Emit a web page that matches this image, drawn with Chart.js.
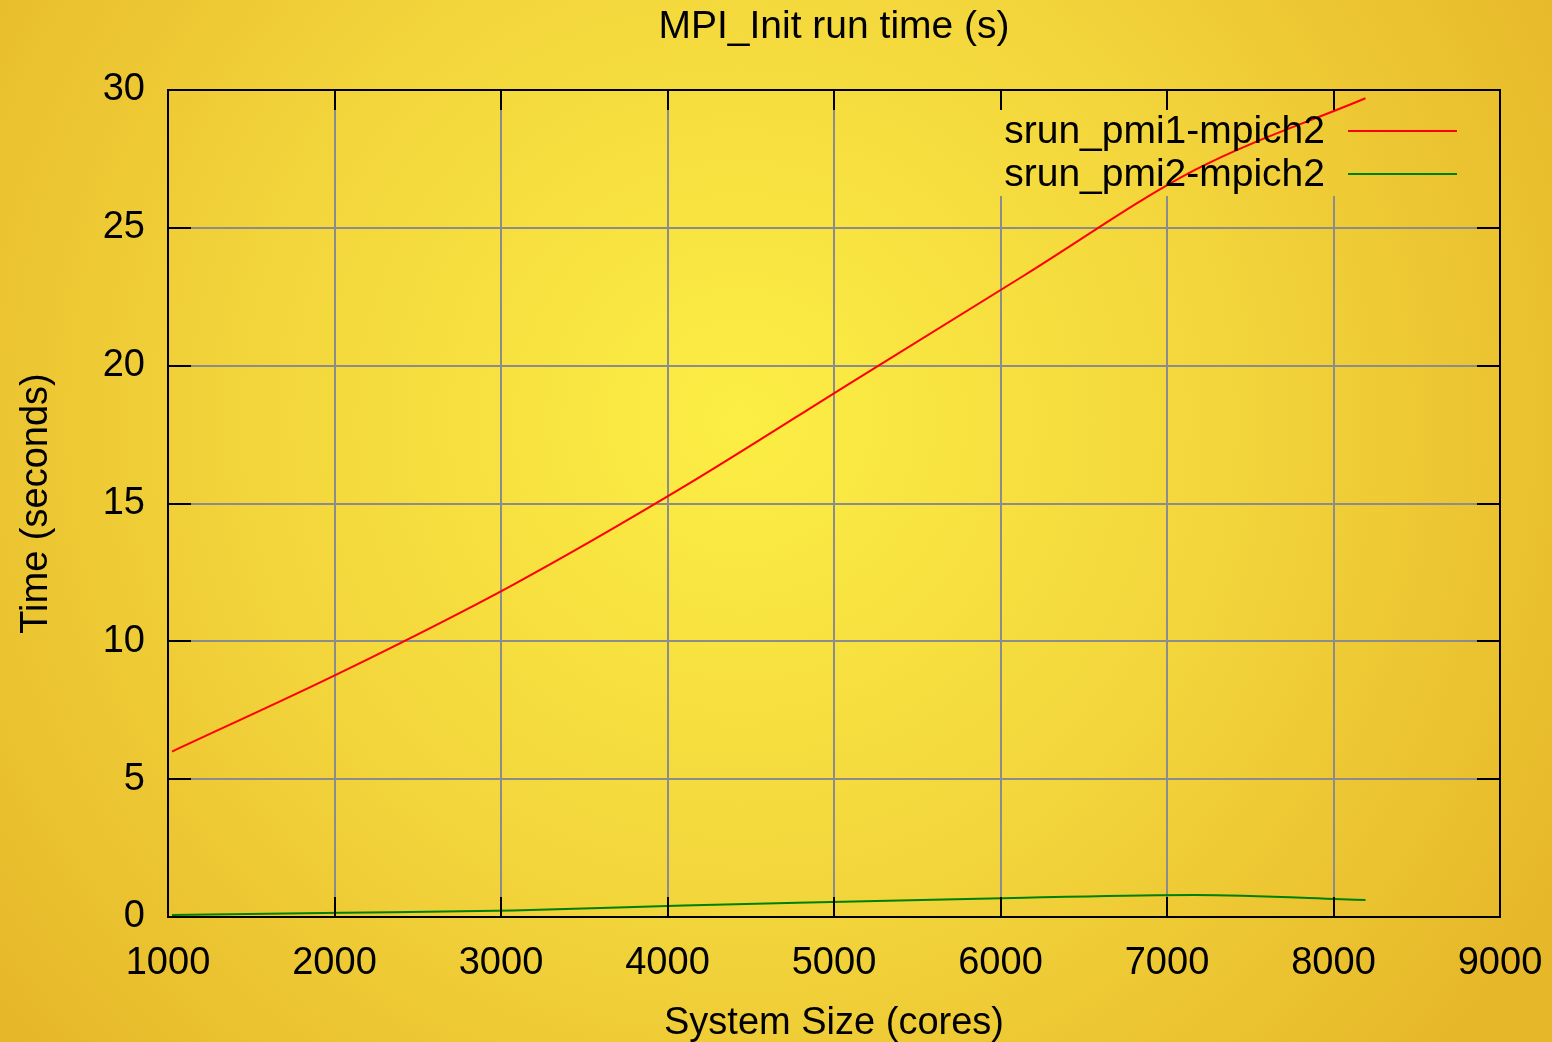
<!DOCTYPE html>
<html>
<head>
<meta charset="utf-8">
<script src="https://cdn.jsdelivr.net/npm/chart.js@4.4.1/dist/chart.umd.min.js"></script>
<style>
  html, body { margin: 0; padding: 0; background: #ebc22f; }
  #wrap { width: 1552px; height: 1042px; position: relative; }
</style>
</head>
<body>
<div id="wrap"><canvas id="chart"></canvas></div>
<script>
// data
const cores = [1024, 2048, 3072, 4096, 5120, 6144, 7168, 8192];
const pmi1 = [6.0, 8.9, 12.05, 15.6, 19.45, 23.28, 27.1, 29.7];
const pmi2 = [0.07, 0.15, 0.24, 0.42, 0.56, 0.7, 0.8, 0.62];
const seriesNames = ["srun_pmi1-mpich2", "srun_pmi2-mpich2"];
const seriesColors = ["#ff0000", "#008000"];
const chartTitle = "MPI_Init run time (s)";

const FONT = "'Liberation Sans', Arial, sans-serif";

function bgGradient(c) {
  const g = c.createRadialGradient(740, 420, 0, 740, 420, 950);
  g.addColorStop(0, "#fcee45");
  g.addColorStop(0.5, "#f3d63c");
  g.addColorStop(1, "#e6b729");
  return g;
}

// gnuplot look: gradient backdrop, blanked key area, black frame with inward ticks
const gnuplotLook = {
  id: "gnuplotLook",
  beforeDraw(chart) {
    const c = chart.ctx;
    c.save();
    c.fillStyle = bgGradient(c);
    c.fillRect(0, 0, chart.width, chart.height);
    c.restore();
  },
  beforeDatasetsDraw(chart) {
    const c = chart.ctx;
    c.save();
    c.fillStyle = bgGradient(c);
    c.fillRect(994, 110, 470, 86);
    c.restore();
  },
  afterDraw(chart) {
    const c = chart.ctx;
    const a = chart.chartArea;
    const xs = chart.scales.x, ys = chart.scales.y;
    c.save();
    c.strokeStyle = "#000";
    c.lineWidth = 2;
    c.strokeRect(a.left, a.top, a.right - a.left, a.bottom - a.top);
    c.beginPath();
    xs.ticks.forEach(t => {
      const x = Math.round(xs.getPixelForValue(t.value));
      c.moveTo(x, a.bottom); c.lineTo(x, a.bottom - 20);
      c.moveTo(x, a.top); c.lineTo(x, a.top + 20);
    });
    ys.ticks.forEach(t => {
      const y = Math.round(ys.getPixelForValue(t.value));
      c.moveTo(a.left, y); c.lineTo(a.left + 23, y);
      c.moveTo(a.right, y); c.lineTo(a.right - 23, y);
    });
    c.stroke();

    // title, centred over the plot
    c.fillStyle = "#000";
    c.font = "39px " + FONT;
    c.textAlign = "center";
    c.textBaseline = "middle";
    c.fillText(chartTitle, (a.left + a.right) / 2, 27);

    // key
    c.textAlign = "right";
    chart.data.datasets.forEach((ds, i) => {
      const y = 131 + i * 43;
      c.fillStyle = "#000";
      c.fillText(ds.label, 1325, y + 1);
      c.strokeStyle = ds.borderColor;
      c.lineWidth = 2;
      c.beginPath();
      c.moveTo(1348, y); c.lineTo(1457, y);
      c.stroke();
    });
    c.restore();
  }
};

const ctx = document.getElementById("chart");

new Chart(ctx, {
  type: "line",
  data: {
    datasets: [
      {
        label: seriesNames[0],
        data: cores.map((x, i) => ({ x, y: pmi1[i] })),
        borderColor: seriesColors[0],
        borderWidth: 2,
        pointRadius: 0,
        cubicInterpolationMode: "monotone",
        fill: false,
      },
      {
        label: seriesNames[1],
        data: cores.map((x, i) => ({ x, y: pmi2[i] })),
        borderColor: seriesColors[1],
        borderWidth: 2,
        pointRadius: 0,
        cubicInterpolationMode: "monotone",
        fill: false,
      },
    ],
  },
  options: {
    responsive: true,
    maintainAspectRatio: false,
    animation: false,
    layout: { padding: { left: 0, right: 52, top: 90, bottom: 0 } },
    plugins: {
      legend: { display: false },
      tooltip: { enabled: false },
      title: { display: false },
    },
    scales: {
      x: {
        type: "linear",
        min: 1000,
        max: 9000,
        grid: { color: "#8c8c8c", lineWidth: 2, drawTicks: false },
        border: { display: false },
        ticks: {
          stepSize: 1000,
          color: "#000",
          padding: 24,
          font: { family: FONT, size: 38 },
          callback: (v) => String(v),
        },
        title: {
          display: true,
          text: "System Size (cores)",
          color: "#000",
          font: { family: FONT, size: 38 },
          padding: { top: 0, bottom: -4 },
        },
        afterFit: (s) => {
          s.height = 125;
          s.paddingLeft = 0;
          s.paddingRight = 0;
        },
      },
      y: {
        min: 0,
        max: 30,
        grid: { color: "#8c8c8c", lineWidth: 2, drawTicks: false },
        border: { display: false },
        ticks: {
          stepSize: 5,
          color: "#000",
          padding: 23,
          font: { family: FONT, size: 38 },
        },
        title: {
          display: true,
          text: "Time (seconds)",
          color: "#000",
          font: { family: FONT, size: 38 },
          padding: { top: 14, bottom: 0 },
        },
        afterFit: (s) => { s.width = 168; },
      },
    },
  },
  plugins: [gnuplotLook],
});
</script>
</body>
</html>
